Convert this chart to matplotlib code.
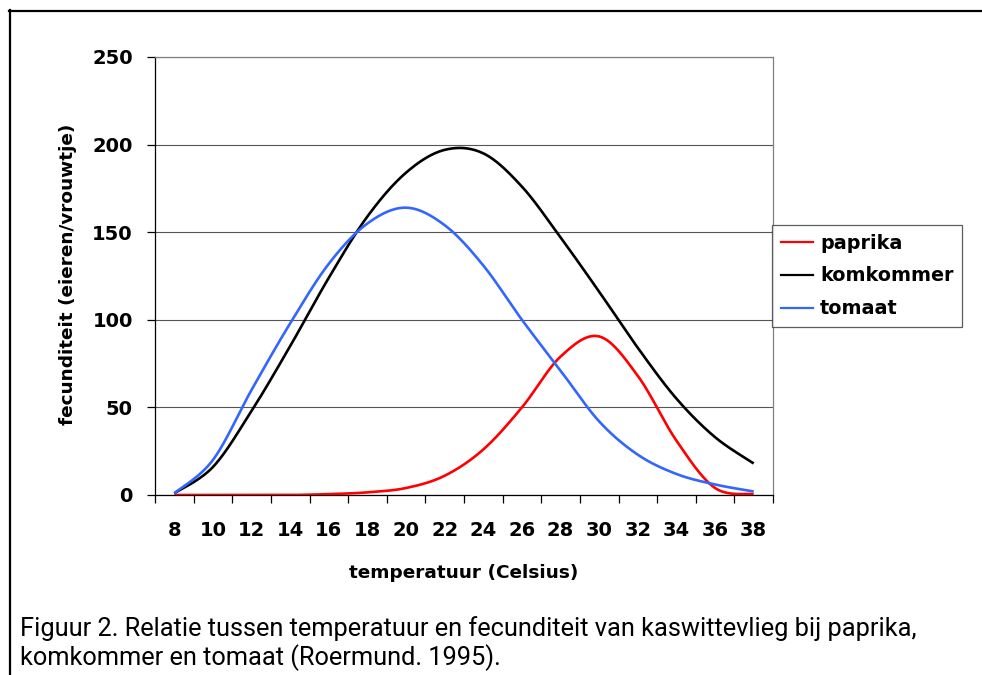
import numpy as np
import matplotlib
matplotlib.use("Agg")
import matplotlib.pyplot as plt
from matplotlib.lines import Line2D

temps = [8, 10, 12, 14, 16, 18, 20, 22, 24, 26, 28, 30, 32, 34, 36, 38]
paprika = [0, 0, 0, 0, 0.5, 1.5, 4, 11, 26, 50, 79, 90.5, 68, 31, 4, 0.5]
komkommer = [1, 16, 48, 85, 124, 159, 184, 197, 195, 176, 147, 116, 84, 55, 33, 18]
tomaat = [1, 20, 60, 98, 132, 155, 164, 154, 131, 100, 71, 42, 23, 12, 6, 2]
series_names = ["paprika", "komkommer", "tomaat"]
series_colors = ["#FF0000", "#000000", "#3366FF"]
yticks = [0, 50, 100, 150, 200, 250]

W, H = 982, 675
DPI = 100


def smooth(xs, ys, n=30):
    """Excel-like smoothed line (Catmull-Rom as Bezier) for rendering."""
    P = np.column_stack([xs, ys]).astype(float)
    out = [P[0]]
    m = len(P)
    for i in range(m - 1):
        p0 = P[i - 1] if i > 0 else P[i]
        p1 = P[i]
        p2 = P[i + 1]
        p3 = P[i + 2] if i + 2 < m else P[i + 1]
        c1 = p1 + (p2 - p0) / 6.0
        c2 = p2 - (p3 - p1) / 6.0
        t = np.linspace(0, 1, n)[1:, None]
        seg = ((1 - t) ** 3) * p1 + 3 * ((1 - t) ** 2) * t * c1 + 3 * (1 - t) * t ** 2 * c2 + t ** 3 * p2
        out.extend(seg)
    out = np.array(out)
    return out[:, 0], out[:, 1]


plt.rcParams['font.family'] = ['DejaVu Sans']

fig = plt.figure(figsize=(W / DPI, H / DPI), dpi=DPI)
ax = fig.add_axes([155 / W, 1 - 495 / H, (773 - 155) / W, (495 - 57) / H])

idx = np.arange(len(temps))
handles = []
for name, vals, col in zip(series_names, [paprika, komkommer, tomaat], series_colors):
    sx, sy = smooth(idx, vals)
    ax.plot(sx, sy, color=col, lw=1.9, solid_capstyle='butt', zorder=3)
    handles.append(Line2D([0], [0], color=col, lw=1.6))

ax.set_xlim(-0.5, len(temps) - 0.5)
ax.set_ylim(0, 250)
ax.set_yticks(yticks)
ax.set_yticklabels([str(v) for v in yticks], fontsize=14, fontweight='bold')
ax.yaxis.grid(True, color='#555555', lw=0.8)
ax.set_axisbelow(True)

ax.set_xticks(np.arange(-0.5, len(temps)), minor=False)
ax.set_xticklabels([])
ax.set_xticks(idx, minor=True)
ax.set_xticklabels([str(t) for t in temps], minor=True, fontsize=14, fontweight='bold')
ax.tick_params(axis='x', which='major', length=6, width=0.9, direction='out', color='black')
ax.tick_params(axis='x', which='minor', length=0, pad=19)
ax.tick_params(axis='y', length=6, width=0.9, direction='out', pad=10, color='black')

for s in ['top', 'right']:
    ax.spines[s].set_color('#808080')
    ax.spines[s].set_linewidth(0.9)
for s in ['left', 'bottom']:
    ax.spines[s].set_color('black')
    ax.spines[s].set_linewidth(0.9)

fig.text(68 / W, 1 - 274 / H, 'fecunditeit (eieren/vrouwtje)', rotation=90,
         ha='center', va='center', fontsize=13.3, fontweight='bold')
fig.text(464 / W, 1 - 573 / H, 'temperatuur (Celsius)', ha='center', va='center',
         fontsize=13.3, fontweight='bold')

leg = fig.legend(handles, series_names, loc='upper left',
                 bbox_to_anchor=(772 / W, 1 - 225 / H), bbox_transform=fig.transFigure,
                 prop={'size': 13.8, 'weight': 'bold'}, frameon=True, fancybox=False,
                 handlelength=1.7, handletextpad=0.35, labelspacing=0.72,
                 borderpad=0.45, borderaxespad=0)
leg.get_frame().set_edgecolor('#333333')
leg.get_frame().set_linewidth(0.9)

# outer frame
fig.add_artist(Line2D([9 / W, 1.0], [1 - 10.5 / H, 1 - 10.5 / H], color='black', lw=1.6,
                      transform=fig.transFigure))
fig.add_artist(Line2D([9.5 / W, 9.5 / W], [0, 1 - 10 / H], color='black', lw=1.6,
                      transform=fig.transFigure))

cap_font = ['Roboto', 'DejaVu Sans']
fig.text(20 / W, 1 - 636 / H,
         'Figuur 2. Relatie tussen temperatuur en fecunditeit van kaswittevlieg bij paprika,',
         ha='left', va='baseline', fontsize=18.3, family=cap_font)
fig.text(20 / W, 1 - 665 / H, 'komkommer en tomaat (Roermund. 1995).',
         ha='left', va='baseline', fontsize=18.3, family=cap_font)

fig.savefig('out.png', dpi=DPI)
